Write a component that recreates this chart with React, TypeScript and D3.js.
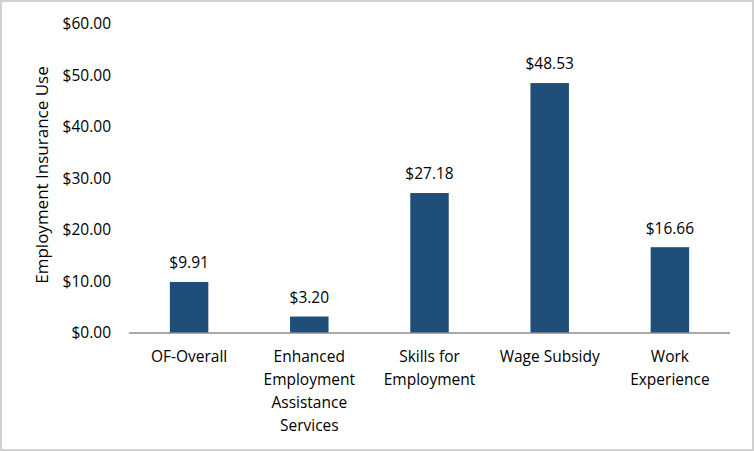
import React, { useEffect } from "react";
import * as d3 from "d3";

const categories: string[][] = [
  ["OF-Overall"],
  ["Enhanced", "Employment", "Assistance", "Services"],
  ["Skills for", "Employment"],
  ["Wage Subsidy"],
  ["Work", "Experience"],
];
const values: number[] = [9.91, 3.2, 27.18, 48.53, 16.66];
const yTicks: number[] = [0, 10, 20, 30, 40, 50, 60];
const yTitle = "Employment Insurance Use";

const W = 754;
const H = 451;
const FONT = "'Open Sans', 'Noto Sans', sans-serif";

export default function App() {
  useEffect(() => {
    document.body.style.margin = "0";
    document.body.style.overflow = "hidden";
  }, []);
  const left = 129;
  const right = 730;
  const top = 24;
  const bottom = 333;
  const keys = categories.map((_, i) => String(i));
  const x = d3.scaleBand<string>().domain(keys).range([left, right]).paddingInner(0.68).paddingOuter(0.34);
  const y = d3.scaleLinear().domain([0, 60]).range([bottom, top]);
  const fmt = (v: number) => "$" + d3.format(".2f")(v);

  return (
    <svg width={W} height={H} style={{ display: "block", fontFamily: FONT }}>
      <rect x={0} y={0} width={W} height={H} fill="#ffffff" />
      <rect x={1} y={1} width={W - 2} height={H - 2} fill="none" stroke="#d0d0d0" strokeWidth={2} />
      {yTicks.map((t) => (
        <text key={t} x={111} y={y(t)} dy="0.35em" textAnchor="end" fontSize={15.5} fill="#000">
          {fmt(t)}
        </text>
      ))}
      <text
        transform={`translate(42,175) rotate(-90)`}
        textAnchor="middle"
        dy="0.35em"
        fontSize={17}
        fill="#000"
      >
        {yTitle}
      </text>
      {values.map((v, i) => (
        <g key={i}>
          <rect x={x(String(i))} y={y(v)} width={x.bandwidth()} height={bottom - y(v)} fill="#1F4E79" />
          <text
            x={(x(String(i)) as number) + x.bandwidth() / 2}
            y={y(v) - 19}
            dy="0.35em"
            textAnchor="middle"
            fontSize={15.5}
            fill="#000"
          >
            {fmt(v)}
          </text>
          {categories[i].map((line, j) => (
            <text
              key={j}
              x={(x(String(i)) as number) + x.bandwidth() / 2}
              y={357 + j * 23}
              dy="0.35em"
              textAnchor="middle"
              fontSize={15.5}
              fill="#000"
            >
              {line}
            </text>
          ))}
        </g>
      ))}
      <line x1={left} x2={right} y1={bottom} y2={bottom} stroke="#8c8c8c" strokeWidth={1.5} />
    </svg>
  );
}
